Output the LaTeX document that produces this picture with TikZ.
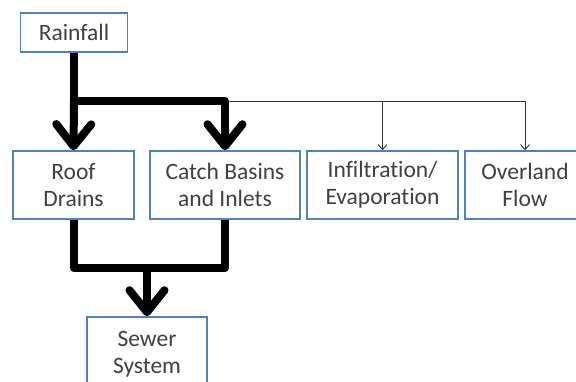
\documentclass[tikz,border=0pt]{standalone}
\usepackage{fontspec}
\setmainfont{Carlito}[Ligatures=NoCommon]
\usepackage{xcolor}
\usepackage{tikz}
\usetikzlibrary{arrows.meta,positioning,calc}

\definecolor{boxblue}{RGB}{79,129,189}
\definecolor{textgray}{RGB}{64,64,64}

\begin{document}
\begin{tikzpicture}[
    x=1pt, y=-1pt,
    font=\fontsize{23.5}{27}\selectfont,
    box/.style={rectangle, draw=boxblue, fill=white, line width=1.6pt, text=textgray, minimum height=68pt, align=center, inner sep=0pt},
    bigline/.style={line width=8pt, line join=round},
    bigarrow/.style={bigline, -{Straight Barb[length=22pt, width=35pt, round]}},
    smallarrow/.style={line width=0.9pt, black!80, -{Straight Barb[length=5pt, width=9pt]}}
]
    \useasboundingbox (0,0) rectangle (576,381);

    \node[box, minimum width=107pt, minimum height=39pt] (rain) at (74,32.5) {Rainfall};
    \node[box, minimum width=121pt] (roof) at (73.5,185) {Roof\\Drains};
    \node[box, minimum width=150pt] (catch) at (225,185) {Catch Basins\\and Inlets};
    \node[box, minimum width=151pt] (infil) at (382.5,185) {Infiltration/\\Evaporation};
    \node[box, minimum width=120pt] (over) at (525,185) {Overland\\Flow};
    \node[box, minimum width=120pt, minimum height=74pt] (sewer) at (147,354) {Sewer\\System};

    \coordinate (split) at (74,101);
    \coordinate (merge) at (147,268);

    % thin branches
    \draw[smallarrow] (split) -| (infil.north);
    \draw[smallarrow] (split) -| (over.north);

    % main flow
    \draw[bigline] (rain.south) -- (split);
    \draw[bigarrow] (split) -- (roof.north);
    \draw[bigarrow] (split) -| (catch.north);
    \draw[bigline] (roof.south) |- (merge) -| (catch.south);
    \draw[bigarrow] (merge) -- (sewer.north);
\end{tikzpicture}
\end{document}
